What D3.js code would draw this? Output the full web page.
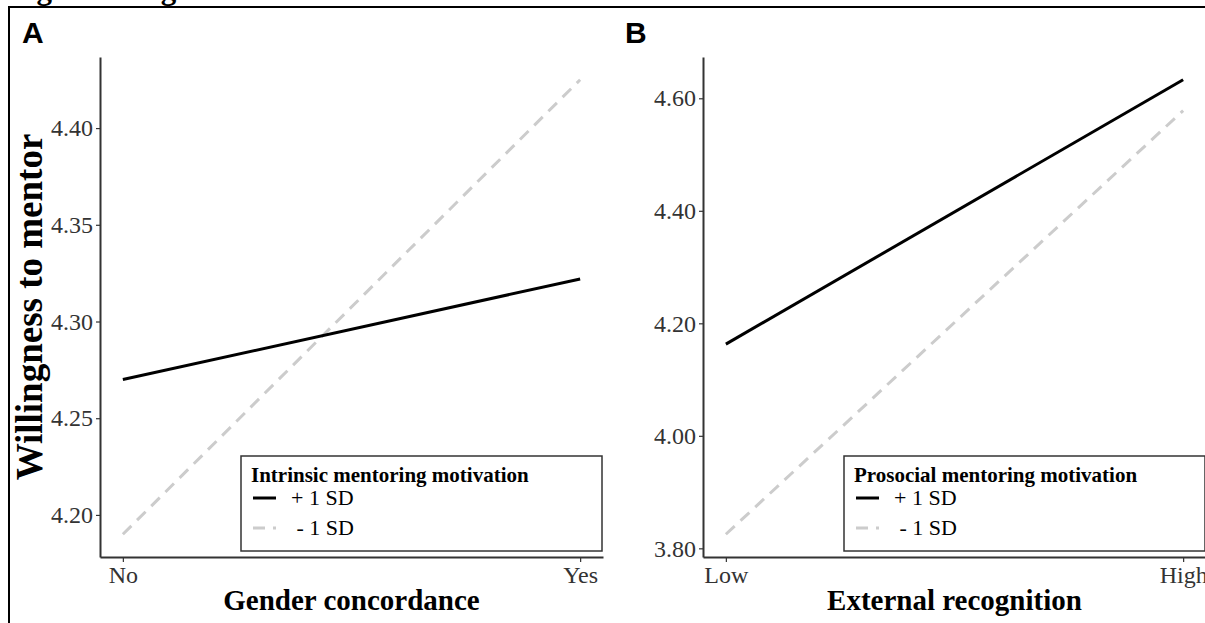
<!DOCTYPE html>
<html lang="en">
<head>
<meta charset="UTF-8"/>
<title>Willingness to mentor - interaction plots</title>
<script src="https://d3js.org/d3.v7.min.js"></script>
<style>
    body { margin: 0; background: #fff; }
    text { font-family: "Liberation Serif", "Times New Roman", serif; }
</style>
</head>
<body>
<div id="chart"></div>
<script>
    // panel A values
    var groupsA = ["No", "Yes"];
    var plusA = [4.270, 4.322];
    var minusA = [4.190, 4.425];
    var ticksA = [4.20, 4.25, 4.30, 4.35, 4.40];

    // panel B values
    var groupsB = ["Low", "High"];
    var plusB = [4.163, 4.633];
    var minusB = [3.825, 4.578];
    var ticksB = [3.80, 4.00, 4.20, 4.40, 4.60];

    var seriesNames = ["+ 1 SD", " - 1 SD"];

    let width = 1205;
    let height = 623;

    var svg = d3.select("#chart").append("svg")
        .attr("width", width).attr("height", height);

    // caption, mostly cut off above the frame
    svg.append("text").text("Figure 2. Significant interactions")
        .attr("x", 9).attr("y", -1)
        .attr("font-size", 31).attr("font-weight", "bold");

    // outer frame
    svg.append("rect")
        .attr("x", 9).attr("y", 7)
        .attr("width", 1210).attr("height", 640)
        .attr("fill", "none").attr("stroke", "#000").attr("stroke-width", 2);

    function panel(opt) {
        var g = svg.append("g");
        var top = 57, bottom = 557;
        var x = d3.scaleLinear().domain([-0.05, 1.05]).range([opt.left, opt.left + 503]);
        var all = opt.plus.concat(opt.minus);
        var lo = d3.min(all), hi = d3.max(all), pad = (hi - lo) * 0.05;
        var y = d3.scaleLinear().domain([lo - pad, hi + pad]).range([bottom, top]);

        // panel letter
        g.append("text").text(opt.letter)
            .attr("x", opt.left - 78).attr("y", 43)
            .attr("font-size", 30).attr("font-weight", "bold")
            .style("font-family", "'Liberation Sans', Arial, sans-serif");

        var yAxis = d3.axisLeft(y).tickValues(opt.ticks)
            .tickFormat(d3.format(".2f")).tickSize(4).tickPadding(3).tickSizeOuter(0);
        var xAxis = d3.axisBottom(x).tickValues([0, 1])
            .tickFormat(function (i) { return opt.groups[i]; })
            .tickSize(5).tickPadding(4).tickSizeOuter(0);

        var ya = g.append("g").attr("transform", "translate(" + opt.left + ",0)").call(yAxis);
        var xa = g.append("g").attr("transform", "translate(0," + bottom + ")").call(xAxis);
        [ya, xa].forEach(function (a) {
            a.select(".domain").attr("stroke", "#333").attr("stroke-width", 2);
            a.selectAll(".tick line").attr("stroke", "#333").attr("stroke-width", 1.2);
            a.selectAll(".tick text").attr("fill", "#333").attr("font-size", 24)
                .style("font-family", "'Liberation Serif', serif");
        });

        // lines
        var line = d3.line().x(function (d, i) { return x(i); }).y(function (d) { return y(d); });
        g.append("path").datum(opt.minus).attr("d", line)
            .attr("fill", "none").attr("stroke", "#cccccc").attr("stroke-width", 3)
            .attr("stroke-dasharray", "12,8");
        g.append("path").datum(opt.plus).attr("d", line)
            .attr("fill", "none").attr("stroke", "#000").attr("stroke-width", 3);

        // x title
        g.append("text").text(opt.xTitle)
            .attr("x", opt.left + 251.5).attr("y", 610)
            .attr("text-anchor", "middle").attr("font-size", 29).attr("font-weight", "bold");

        // legend
        var bx = opt.left + 503 - 362, by = 456;
        var lg = g.append("g").attr("transform", "translate(" + bx + "," + by + ")");
        lg.append("rect").attr("width", 361).attr("height", 95)
            .attr("fill", "#fff").attr("stroke", "#333").attr("stroke-width", 1.5);
        lg.append("text").text(opt.legendTitle)
            .attr("x", 10).attr("y", 26).attr("font-size", 21).attr("font-weight", "bold");
        var keys = [{dash: null, color: "#000"}, {dash: "12,8", color: "#cccccc"}];
        keys.forEach(function (k, i) {
            var ky = 42 + i * 30;
            lg.append("line").attr("x1", 12).attr("x2", 35).attr("y1", ky).attr("y2", ky)
                .attr("stroke", k.color).attr("stroke-width", 3)
                .attr("stroke-dasharray", k.dash);
            lg.append("text").text(seriesNames[i])
                .attr("x", 50).attr("y", ky + 7).attr("font-size", 22)
                .style("white-space", "pre");
        });
        return g;
    }

    panel({
        letter: "A", left: 100, groups: groupsA, plus: plusA, minus: minusA, ticks: ticksA,
        xTitle: "Gender concordance", legendTitle: "Intrinsic mentoring motivation"
    });
    panel({
        letter: "B", left: 703, groups: groupsB, plus: plusB, minus: minusB, ticks: ticksB,
        xTitle: "External recognition", legendTitle: "Prosocial mentoring motivation"
    });

    // y title, panel A only
    svg.append("text").text("Willingness to mentor")
        .attr("transform", "translate(42,307) rotate(-90)")
        .attr("text-anchor", "middle").attr("font-size", 37).attr("font-weight", "bold");
</script>
</body>
</html>
